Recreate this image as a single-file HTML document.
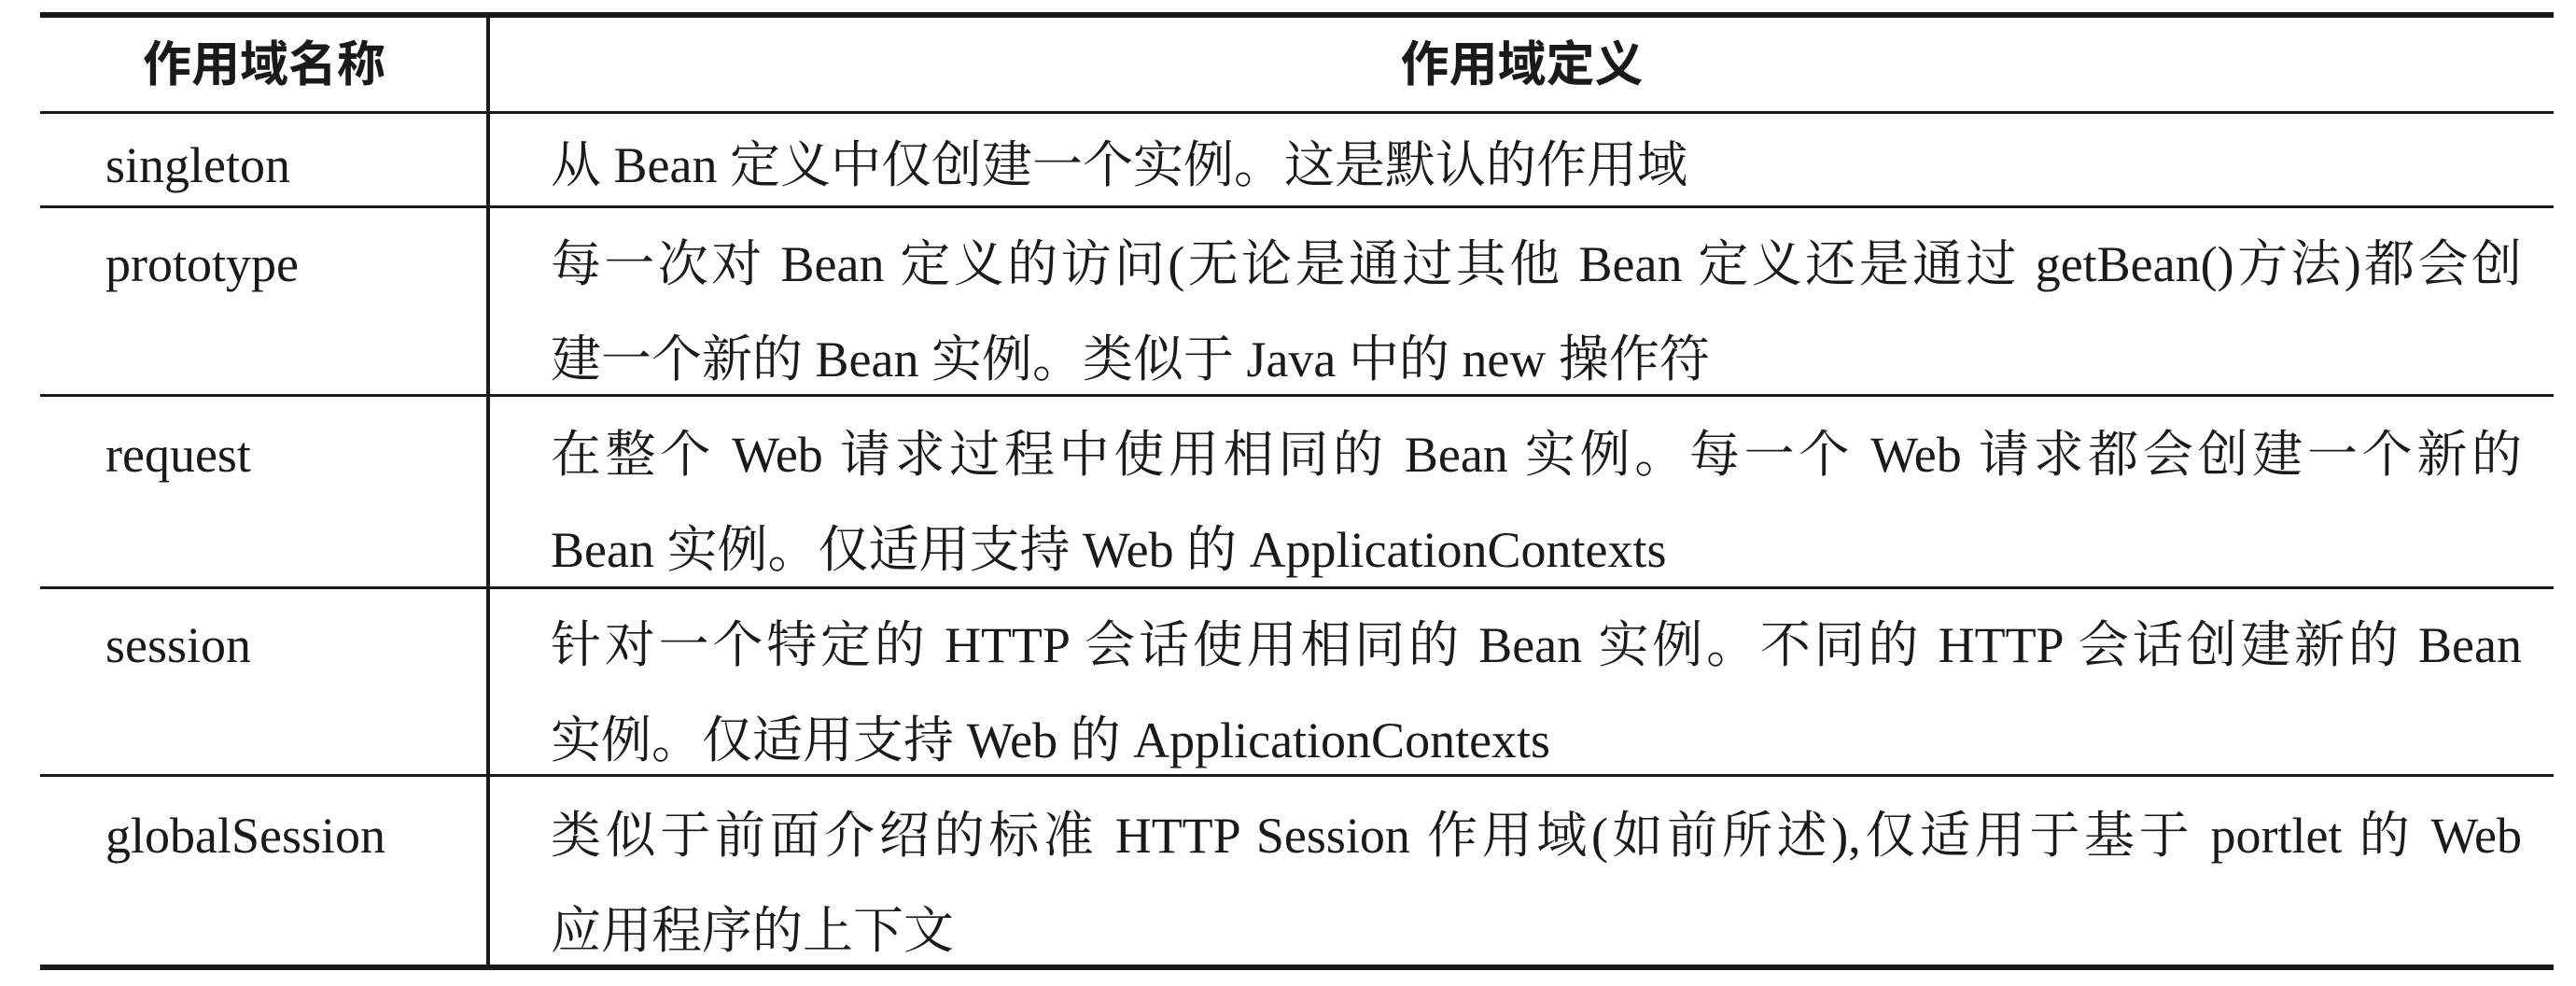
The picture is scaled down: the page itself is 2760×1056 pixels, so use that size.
<!DOCTYPE html>
<html><head><meta charset="utf-8"><style>
body{margin:0;width:2760px;height:1056px;background:#fff;position:relative;overflow:hidden;font-family:"Liberation Serif","Noto Serif CJK SC",serif;color:#1a1a1a}
.h{position:absolute;left:43px;width:2693px;background:#1a1a1a}
.v{position:absolute;left:521px;width:4px;top:15px;height:1022px;background:#1a1a1a}
.t{position:absolute;font-size:54px;line-height:102px;white-space:nowrap}
.l{left:113px}
.r{left:590px;width:2112px}
.j{text-align:justify;text-align-last:justify}
.hd{position:absolute;top:20px;line-height:100px;font-family:"Liberation Sans","Noto Sans CJK SC",sans-serif;font-weight:bold;font-size:52px;text-align:center}
</style></head><body>
<div class="h" style="top:13px;height:6px"></div>
<div class="h" style="top:119px;height:3px"></div>
<div class="h" style="top:220px;height:3px"></div>
<div class="h" style="top:422px;height:3px"></div>
<div class="h" style="top:628px;height:3px"></div>
<div class="h" style="top:829px;height:3px"></div>
<div class="h" style="top:1033px;height:6px"></div>
<div class="v"></div>
<div class="hd" style="left:43px;width:480px">作用域名称</div>
<div class="hd" style="left:525px;width:2211px">作用域定义</div>

<div class="t l" style="top:126px">singleton</div>
<div class="t r" style="top:126px">从 Bean 定义中仅创建一个实例。这是默认的作用域</div>

<div class="t l" style="top:232px">prototype</div>
<div class="t r j" style="top:232px">每一次对 Bean 定义的访问(无论是通过其他 Bean 定义还是通过 getBean()方法)都会创</div>
<div class="t r" style="top:334px">建一个新的 Bean 实例。类似于 Java 中的 new 操作符</div>

<div class="t l" style="top:436px">request</div>
<div class="t r j" style="top:436px">在整个 Web 请求过程中使用相同的 Bean 实例。每一个 Web 请求都会创建一个新的</div>
<div class="t r" style="top:538px">Bean 实例。仅适用支持 Web 的 ApplicationContexts</div>

<div class="t l" style="top:640px">session</div>
<div class="t r j" style="top:640px">针对一个特定的 HTTP 会话使用相同的 Bean 实例。不同的 HTTP 会话创建新的 Bean</div>
<div class="t r" style="top:742px">实例。仅适用支持 Web 的 ApplicationContexts</div>

<div class="t l" style="top:844px">globalSession</div>
<div class="t r j" style="top:844px">类似于前面介绍的标准 HTTP Session 作用域(如前所述),仅适用于基于 portlet 的 Web</div>
<div class="t r" style="top:946px">应用程序的上下文</div>
</body></html>
